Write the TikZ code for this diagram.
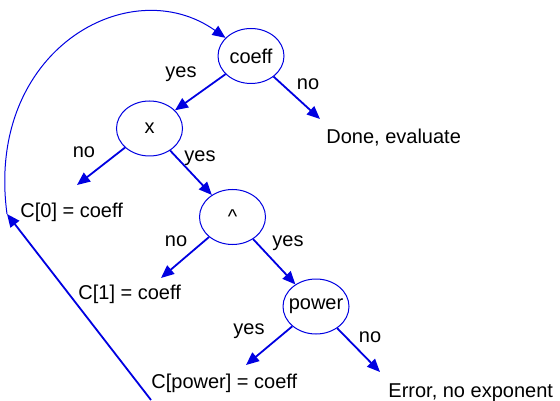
\documentclass[tikz,border=0pt]{standalone}
\usepackage{fontspec}
\setmainfont{Liberation Sans}
\usetikzlibrary{arrows.meta,shapes.geometric}
\definecolor{flowblue}{RGB}{0,0,225}

\begin{document}
\begin{tikzpicture}[x=0.5pt,y=-0.5pt,
    test/.style={draw=flowblue, line width=0.5pt, ellipse, minimum width=33pt, minimum height=27.5pt, inner sep=0pt},
    result/.style={anchor=base west, inner sep=0pt},
    ans/.style={inner sep=0pt},
    go/.style={draw=flowblue, line width=0.9pt, -{Triangle[length=6.5pt,width=5.5pt]}}]
    \useasboundingbox (0,0) rectangle (560,400);

    \node[test] (coeff) at (251,56) {\makebox[0pt]{coeff}};
    \node[test] (x) at (149.5,128.5) {\makebox[0pt]{x}};
    \node[test] (hat) at (232.5,217) {\makebox[0pt]{\textasciicircum}};
    \node[test] (power) at (316,306.5) {\makebox[0pt]{power}};

    \node[result] (done) at (326,144) {Done, evaluate};
    \node[result] (c0) at (20,218) {C[0] = coeff};
    \node[result] (c1) at (78,299) {C[1] = coeff};
    \node[result] (cpow) at (151,388) {C[power] = coeff};
    \node[result] (err) at (388,397) {Error, no exponent};

    \coordinate (done in) at (320,119);
    \coordinate (c0 in) at (77,185);
    \coordinate (c1 in) at (161,278);
    \coordinate (cpow in) at (246,365);
    \coordinate (err in) at (380,372);
    \coordinate (back) at (151,400);
    \coordinate (loop) at (7,214);

    \draw[go] (coeff) -- (x) node[ans] at (181,74) {yes};
    \draw[go] (coeff) -- (done in) node[ans] at (308,84) {no};
    \draw[go] (x) -- (c0 in) node[ans] at (84,152) {no};
    \draw[go] (x) -- (hat) node[ans] at (200,158) {yes};
    \draw[go] (hat) -- (c1 in) node[ans] at (176,241) {no};
    \draw[go] (hat) -- (power) node[ans] at (288,243) {yes};
    \draw[go] (power) -- (cpow in) node[ans] at (249,331) {yes};
    \draw[go] (power) -- (err in) node[ans] at (370,337) {no};

    % loop back to the next coefficient
    \draw[go] (back) -- (loop);
    \draw[go, line width=0.5pt] (loop) .. controls (-15,50) and (130,-30) .. (coeff);
\end{tikzpicture}
\end{document}
